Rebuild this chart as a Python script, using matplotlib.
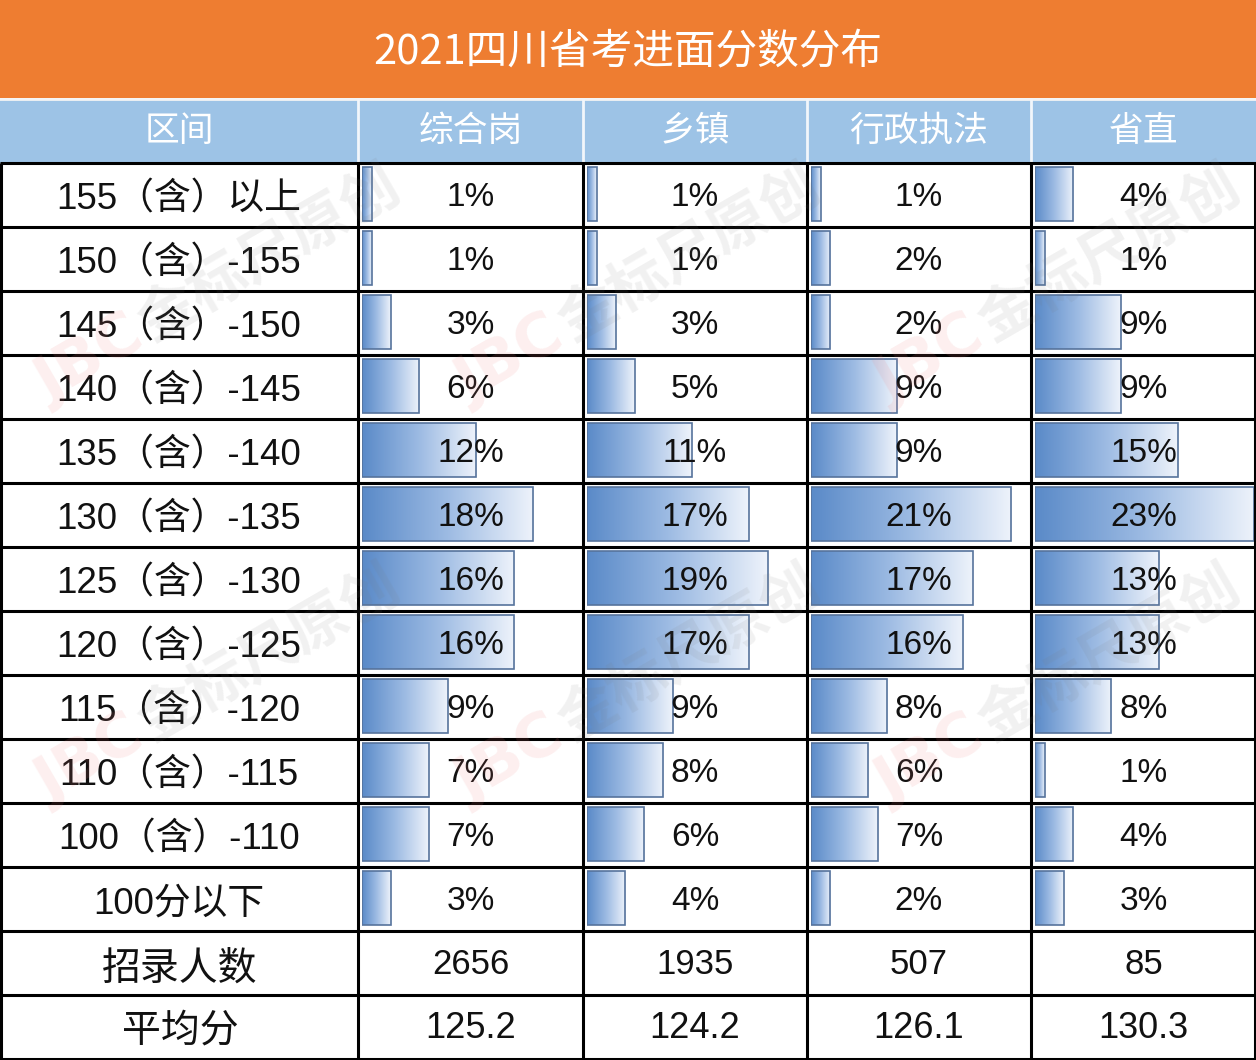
import numpy as np
import matplotlib.pyplot as plt
from matplotlib.colors import LinearSegmentedColormap

plt.rcParams['font.family'] = ['Liberation Sans', 'Noto Sans CJK SC', 'DejaVu Sans']

title = '2021四川省考进面分数分布'
header = ['区间', '综合岗', '乡镇', '行政执法', '省直']
ranges = ['155（含）以上', '150（含）-155', '145（含）-150', '140（含）-145',
          '135（含）-140', '130（含）-135', '125（含）-130', '120（含）-125',
          '115（含）-120', '110（含）-115', '100（含）-110', '100分以下']
zonghe = [1, 1, 3, 6, 12, 18, 16, 16, 9, 7, 7, 3]
xiangzhen = [1, 1, 3, 5, 11, 17, 19, 17, 9, 8, 6, 4]
xingzheng = [1, 2, 2, 9, 9, 21, 17, 16, 8, 6, 7, 2]
shengzhi = [4, 1, 9, 9, 15, 23, 13, 13, 8, 1, 4, 3]
hires = [2656, 1935, 507, 85]
avg = [125.2, 124.2, 126.1, 130.3]
series = [zonghe, xiangzhen, xingzheng, shengzhi]

W, H = 1256, 1060
col_edges = [0, 358, 583, 807, 1031, 1256]
title_h = 98
head_top, head_bot = 100, 163
row_h = 64
n = len(ranges)
data_bot = head_bot + n * row_h

fig = plt.figure(figsize=(W / 100, H / 100), dpi=100)

# background fills
base = fig.add_axes([0, 0, 1, 1], zorder=0)
base.set_xlim(0, W)
base.set_ylim(H, 0)
base.axis('off')
base.add_patch(plt.Rectangle((0, 0), W, title_h, color='#EE7D31', lw=0))
base.add_patch(plt.Rectangle((0, head_top), W, head_bot - head_top, color='#9DC3E6', lw=0))

# data bars, one axes per column, gradient filled
cmap = LinearSegmentedColormap.from_list('bar', ['#5A8AC8', '#9DBBE3', '#EEF3FB'])
grad = np.linspace(0, 1, 256).reshape(1, -1)
for j, vals in enumerate(series):
    left = col_edges[j + 1] + 4
    bax = fig.add_axes([left / W, 1 - data_bot / H, 221 / W, (data_bot - head_bot) / H], zorder=1)
    bax.axis('off')
    bars = bax.barh(np.arange(n) + 0.48, vals, height=0.84, left=0,
                    facecolor='none', edgecolor='#56739C', linewidth=1.2, zorder=3)
    for b in bars:
        x0, y0 = b.get_x(), b.get_y()
        im = bax.imshow(grad, cmap=cmap, aspect='auto', zorder=2,
                        extent=[x0, x0 + b.get_width(), y0 + b.get_height(), y0])
        im.set_clip_path(b)
    bax.set_xlim(0, 23.2)
    bax.set_ylim(n, 0)

# lines, texts, watermark
ax = fig.add_axes([0, 0, 1, 1], zorder=2)
ax.set_xlim(0, W)
ax.set_ylim(H, 0)
ax.axis('off')

ax.text(W / 2, 52, title, ha='center', va='center', color='white', fontsize=30,
        family=['Noto Sans CJK SC'])
ax.plot([0, W], [98.5, 98.5], color='#F4F4F4', lw=2)
for j, h in enumerate(header):
    cx = (col_edges[j] + col_edges[j + 1]) / 2
    ax.text(cx, 131, h, ha='center', va='center', color='white', fontsize=25,
            family=['Noto Sans CJK SC'])
for x in col_edges[1:-1]:
    ax.plot([x, x], [head_top, head_bot], color='#F2F6FB', lw=2)

# grid
ys = [head_bot + k * row_h for k in range(n + 3)]
for y in ys:
    ax.plot([0, W], [y, y], color='black', lw=2.2, solid_capstyle='butt')
for x in col_edges:
    xx = min(max(x, 1), W - 1.5)
    ax.plot([xx, xx], [head_bot, H], color='black', lw=2.2, solid_capstyle='butt')

for i, r in enumerate(ranges):
    yc = head_bot + i * row_h + row_h / 2
    ax.text(179, yc + 5, r, ha='center', va='center', fontsize=26.5, color='#111111')
    for j, vals in enumerate(series):
        cx = (col_edges[j + 1] + col_edges[j + 2]) / 2
        ax.text(cx, yc + 2, f'{vals[i]}%', ha='center', va='center', fontsize=24,
                color='#111111')

yc = head_bot + n * row_h + row_h / 2
ax.text(180, yc + 7, '招录人数', ha='center', va='center', fontsize=28,
        family=['Noto Sans CJK SC'], color='#111111')
for j, v in enumerate(hires):
    cx = (col_edges[j + 1] + col_edges[j + 2]) / 2
    ax.text(cx, yc + 2, str(v), ha='center', va='center', fontsize=25, color='#111111')
yc += row_h
ax.text(180, yc + 3, '平均分', ha='center', va='center', fontsize=28,
        family=['Noto Sans CJK SC'], color='#111111')
for j, v in enumerate(avg):
    cx = (col_edges[j + 1] + col_edges[j + 2]) / 2
    ax.text(cx, yc + 2, f'{v:.1f}', ha='center', va='center', fontsize=26, color='#111111')

# faint watermark
for wy in [360, 760]:
    for wx in [90, 510, 930]:
        ax.text(wx, wy, 'JBC', rotation=30, fontsize=44, color='#F08080', alpha=0.13,
                ha='center', va='center', fontweight='bold', family=['DejaVu Sans'])
        ax.text(wx + 180, wy - 105, '金标尺原创', rotation=30, fontsize=42, color='#7A7A7A',
                alpha=0.10, ha='center', va='center', fontweight='bold',
                family=['Noto Sans CJK SC'])

fig.savefig('out.png', dpi=100)
